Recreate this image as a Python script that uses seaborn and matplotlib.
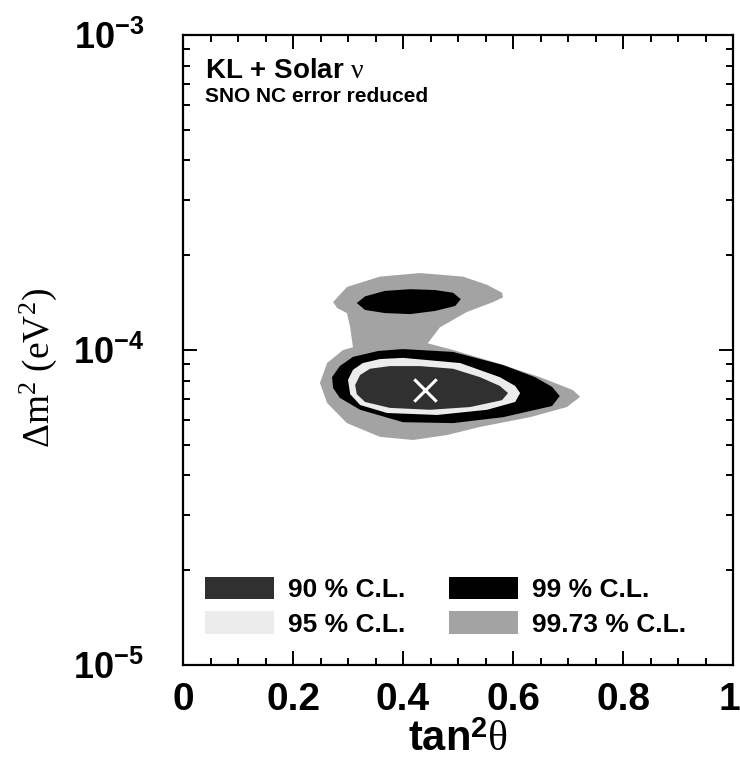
import matplotlib
matplotlib.use("Agg")
import matplotlib.pyplot as plt
from matplotlib.patches import Patch
from matplotlib.transforms import ScaledTranslation
from matplotlib.ticker import LogLocator, NullFormatter, MultipleLocator, FixedLocator
import seaborn as sns

# ---------------- data ----------------
# 99.73 % C.L. region (tan^2 theta, dm^2 in eV^2)
cl9973_t = [0.273, 0.298, 0.358, 0.431, 0.509, 0.553, 0.580, 0.582, 0.564, 0.516, 0.467, 0.445,
            0.491, 0.571, 0.649, 0.709, 0.722, 0.698, 0.631, 0.540, 0.480, 0.418, 0.358, 0.298,
            0.262, 0.249, 0.262, 0.291, 0.309, 0.304, 0.298, 0.280]
cl9973_m = [1.42e-4, 1.585e-4, 1.71e-4, 1.755e-4, 1.71e-4, 1.61e-4, 1.52e-4, 1.47e-4, 1.42e-4, 1.32e-4,
            1.18e-4, 1.05e-4, 1.0e-4, 9.09e-5, 8.20e-5, 7.46e-5, 7.10e-5, 6.59e-5, 6.12e-5, 5.70e-5,
            5.37e-5, 5.18e-5, 5.30e-5, 5.86e-5, 6.79e-5, 7.86e-5, 9.09e-5, 1.0e-4, 1.02e-4, 1.18e-4,
            1.31e-4, 1.36e-4]
# 99 % C.L. upper island
cl99_up_t = [0.316, 0.331, 0.367, 0.413, 0.458, 0.491, 0.505, 0.495, 0.458, 0.413, 0.367, 0.331]
cl99_up_m = [1.41e-4, 1.48e-4, 1.54e-4, 1.56e-4, 1.55e-4, 1.52e-4, 1.45e-4, 1.38e-4, 1.33e-4,
             1.30e-4, 1.31e-4, 1.34e-4]
# 99 % C.L. lower region
cl99_lo_t = [0.271, 0.285, 0.309, 0.355, 0.400, 0.491, 0.582, 0.640, 0.671, 0.685, 0.671, 0.582,
             0.491, 0.400, 0.322, 0.285, 0.273]
cl99_lo_m = [8.20e-5, 8.89e-5, 9.51e-5, 9.93e-5, 1.007e-4, 9.86e-5, 8.96e-5, 8.20e-5, 7.64e-5, 7.14e-5,
             6.64e-5, 6.12e-5, 5.86e-5, 5.90e-5, 6.46e-5, 7.05e-5, 7.57e-5]
# 95 % C.L.
cl95_t = [0.300, 0.309, 0.327, 0.358, 0.400, 0.504, 0.576, 0.604, 0.613, 0.604, 0.553, 0.462,
          0.371, 0.322, 0.304]
cl95_m = [8.04e-5, 8.65e-5, 9.09e-5, 9.36e-5, 9.44e-5, 9.09e-5, 8.20e-5, 7.69e-5, 7.30e-5, 6.84e-5,
          6.46e-5, 6.22e-5, 6.31e-5, 6.69e-5, 7.24e-5]
# 90 % C.L.
cl90_t = [0.313, 0.322, 0.340, 0.376, 0.431, 0.491, 0.540, 0.576, 0.591, 0.580, 0.522, 0.449,
          0.376, 0.331, 0.316]
cl90_m = [7.74e-5, 8.33e-5, 8.72e-5, 8.89e-5, 8.89e-5, 8.72e-5, 8.20e-5, 7.69e-5, 7.30e-5, 6.93e-5,
          6.59e-5, 6.46e-5, 6.55e-5, 6.84e-5, 7.24e-5]
# best fit point
best_t = [0.44]
best_m = [7.45e-5]

legend_labels = ["90 % C.L.", "95 % C.L.", "99 % C.L.", "99.73 % C.L."]
x_ticks = [0, 0.2, 0.4, 0.6, 0.8, 1.0]
x_tick_labels = ["0", "0.2", "0.4", "0.6", "0.8", "1"]
y_ticks = [1e-5, 1e-4, 1e-3]
y_tick_labels = [r"$\mathbf{10^{-5}}$", r"$\mathbf{10^{-4}}$", r"$\mathbf{10^{-3}}$"]

# ---------------- style ----------------
sns.set_theme(style="white")
plt.rcParams["font.family"] = ["Liberation Sans", "DejaVu Sans"]
plt.rcParams["mathtext.fontset"] = "custom"
plt.rcParams["mathtext.rm"] = "Liberation Serif"
plt.rcParams["mathtext.it"] = "Liberation Serif:italic"
plt.rcParams["mathtext.bf"] = "Liberation Sans:bold"
for k in ("text.color", "axes.labelcolor", "xtick.color", "ytick.color", "axes.edgecolor"):
    plt.rcParams[k] = "black"

c90, c95, c99, c9973 = "#303030", "#ececec", "#000000", "#a3a3a3"

fig = plt.figure(figsize=(7.4, 7.72), dpi=100)
ax = fig.add_axes([183 / 740, 1 - 665 / 772, 550 / 740, 630 / 772])
ax.set_yscale("log")
ax.set_xlim(0, 1)
ax.set_ylim(1e-5, 1e-3)

ax.fill(cl9973_t, cl9973_m, color=c9973, lw=0)
ax.fill(cl99_up_t, cl99_up_m, color=c99, lw=0)
ax.fill(cl99_lo_t, cl99_lo_m, color=c99, lw=0)
ax.fill(cl95_t, cl95_m, color=c95, lw=0)
ax.fill(cl90_t, cl90_m, color=c90, lw=0)

sns.scatterplot(x=best_t, y=best_m, marker="x", color="white", s=260, linewidth=2.2, ax=ax, zorder=5)

# axes / ticks
for s in ax.spines.values():
    s.set_linewidth(1.6)
    s.set_color("black")
ax.xaxis.set_major_locator(FixedLocator(x_ticks))
ax.xaxis.set_minor_locator(MultipleLocator(0.05))
ax.set_xticklabels(x_tick_labels, fontsize=28, fontweight="bold")
ax.yaxis.set_major_locator(FixedLocator(y_ticks))
ax.yaxis.set_minor_locator(LogLocator(base=10, subs=range(2, 10)))
ax.yaxis.set_minor_formatter(NullFormatter())
ax.set_yticklabels(y_tick_labels, fontsize=26)
ax.tick_params(which="both", direction="in", top=True, right=True, left=True, bottom=True,
               color="black", width=1.4)
ax.tick_params(which="major", length=10)
ax.tick_params(which="minor", length=5)
ax.tick_params(axis="x", which="major", pad=12)
ax.tick_params(axis="y", which="major", pad=28)

# keep the last x tick label ("1") inside the figure
last = ax.get_xticklabels()[-1]
last.set_transform(last.get_transform() + ScaledTranslation(-0.04, 0, fig.dpi_scale_trans))

ax.set_xlabel(r"tan$^{\mathbf{2}}$$\mathrm{\theta}$", fontsize=30, fontweight="bold", labelpad=2)
ax.set_ylabel(r"$\mathrm{\Delta m^2\ (eV^2)}$", fontsize=27)
ax.yaxis.set_label_coords(-0.225, 0.471)

ax.text(0.04, 0.932, r"KL + Solar $\mathrm{\nu}$", transform=ax.transAxes, fontsize=20,
        fontweight="bold", va="baseline", ha="left")
ax.text(0.04, 0.894, "SNO NC error reduced", transform=ax.transAxes, fontsize=15,
        fontweight="bold", va="baseline", ha="left")

handles = [Patch(facecolor=c, edgecolor="none") for c in (c90, c95, c99, c9973)]
ax.legend(handles, legend_labels, ncol=2, loc="lower left", bbox_to_anchor=(0.04, 0.045),
          frameon=False, prop={"family": "Liberation Sans", "weight": "bold", "size": 19},
          handlelength=2.6, handleheight=0.95, handletextpad=0.55, columnspacing=1.65,
          labelspacing=0.35, borderpad=0, borderaxespad=0)

fig.savefig("out.png", dpi=100)
